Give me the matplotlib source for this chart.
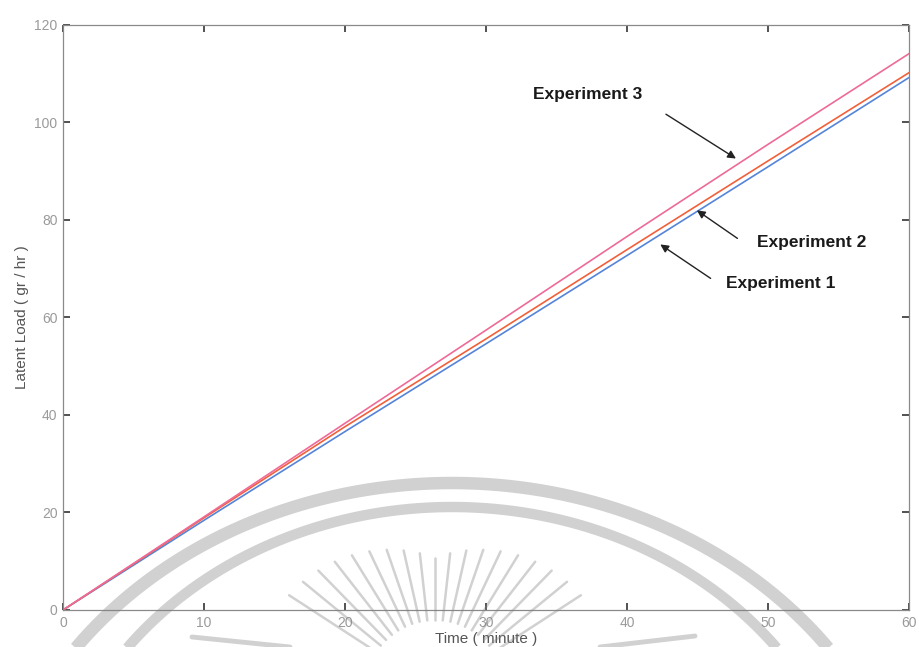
import numpy as np
import matplotlib
matplotlib.use("Agg")
import matplotlib.pyplot as plt

# latent load readings (gr/hr) every 10 minutes
time_min = [0, 10, 20, 30, 40, 50, 60]
exp1 = [0, 18.4, 36.6, 54.6, 72.7, 90.9, 109.2]
exp2 = [0, 18.9, 37.6, 55.6, 73.9, 92.1, 110.2]
exp3 = [0, 19.1, 38.3, 57.4, 76.6, 95.5, 114.1]

series_names = ["Experiment 1", "Experiment 2", "Experiment 3"]
series_colors = ["#5584d8", "#f0603a", "#ee6a98"]

x_ticks = [0, 10, 20, 30, 40, 50, 60]
y_ticks = [0, 20, 40, 60, 80, 100, 120]

plt.rcParams['font.family'] = ['Liberation Sans', 'DejaVu Sans']

fig = plt.figure(figsize=(9.19, 6.47), dpi=100)
ax = fig.add_axes([0.0686, 0.0572, 0.9204, 0.9042])

for ys, c in zip([exp1, exp2, exp3], series_colors):
    ax.plot(time_min, ys, color=c, lw=1.2)

ax.set_xlim(0, 60)
ax.set_ylim(0, 120)
ax.set_xticks(x_ticks)
ax.set_yticks(y_ticks)
ax.tick_params(direction='in', length=5, width=1.2, color='#333333',
               labelcolor='#9a9a9a', labelsize=10, top=True, right=True, pad=4)
for s in ax.spines.values():
    s.set_color('#8a8a8a')
    s.set_linewidth(0.9)

ax.set_xlabel("Time ( minute )", fontsize=11, color='#555555', labelpad=2)
ax.set_ylabel("Latent Load ( gr / hr )", fontsize=11, color='#555555', labelpad=4)

# arrow annotations: (text x, text y, tail x, tail y, head x, head y)
notes = {
    "Experiment 3": (37.2, 105.8, 42.6, 102.0, 47.9, 92.3),
    "Experiment 2": (53.1, 75.3, 48.0, 75.9, 44.8, 82.3),
    "Experiment 1": (50.9, 66.9, 46.1, 67.7, 42.2, 75.3),
}
for name in series_names:
    tx, ty, ax0, ay0, hx, hy = notes[name]
    ax.text(tx, ty, name, ha='center', va='center', fontsize=12.5,
            fontweight='bold', color='#1a1a1a')
    ax.annotate("", xy=(hx, hy), xytext=(ax0, ay0),
                arrowprops=dict(arrowstyle='-|>', color='#222222', lw=1.0,
                                mutation_scale=12))

# faint seal stamped across the lower part of the page
wm = fig.add_axes([0, 0, 1, 1], zorder=10)
wm.set_xlim(0, 919)
wm.set_ylim(647, 0)
wm.axis('off')
wm.patch.set_alpha(0)
wcol = '0.5'
walpha = 0.36

t = np.linspace(0, np.pi, 400)
for cx, cy, a, b, lw in [(452, 883, 465, 400, 9.0), (452, 857, 405, 350, 7.5)]:
    wm.plot(cx + a * np.cos(t), cy - b * np.sin(t), color=wcol, alpha=walpha,
            lw=lw, solid_capstyle='butt')

sx, sy = 435, 690
for ang in np.linspace(np.radians(33), np.radians(147), 19):
    r_out = 132 + 50 * abs(np.cos(ang))
    r_in = 70
    wm.plot([sx + r_in * np.cos(ang), sx + r_out * np.cos(ang)],
            [sy - r_in * np.sin(ang), sy - r_out * np.sin(ang)],
            color=wcol, alpha=walpha, lw=1.8, solid_capstyle='round')

for x0, y0, x1, y1 in [(192, 637, 290, 647), (600, 647, 695, 636)]:
    wm.plot([x0, x1], [y0, y1], color=wcol, alpha=walpha, lw=3.5,
            solid_capstyle='round')

fig.savefig("out.png", dpi=100)
